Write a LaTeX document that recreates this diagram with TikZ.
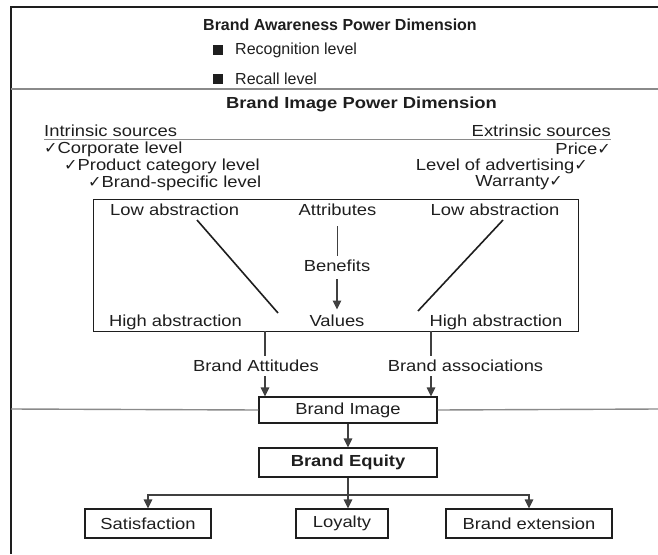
\documentclass[tikz,border=0pt]{standalone}
\usepackage{fontspec}
\setmainfont{Liberation Sans}[FakeStretch=1.15]
\newfontfamily\topsans{Liberation Sans}
\newfontfamily\chk{DejaVu Sans}
\usetikzlibrary{arrows.meta}
\definecolor{ink}{HTML}{1E1E1E}
\definecolor{rule}{HTML}{8A8A8A}
\begin{document}
\begin{tikzpicture}[x=1pt,y=-1pt,
  txt/.style={inner sep=0pt, text=ink, font=\fontsize{16}{18}\selectfont},
  toptxt/.style={inner sep=0pt, text=ink, font=\topsans\fontsize{16}{18}\selectfont},
  boxed/.style={draw=ink, line width=1.1pt, inner sep=0pt, text=ink,
    font=\fontsize{16}{18}\selectfont},
  arr/.style={draw=ink!85, line width=1.1pt, -{Triangle[width=8.5pt,length=9pt]}},
  plain/.style={draw=ink!85, line width=1.1pt},
  slant/.style={draw=ink, line width=1.6pt},
  divider/.style={draw=rule, line width=1.8pt},
  bullet/.style={fill=ink, minimum width=10pt, minimum height=9.5pt, inner sep=0pt},
  labelbg/.style={txt, fill=white, inner xsep=1pt, inner ysep=4pt}
]
\path[use as bounding box] (0,0) rectangle (658,554);

% outer frame (top and left edges)
\draw[ink, line width=1.5pt] (10,7) -- (658,7);
\draw[ink, line width=1.5pt] (11,7) -- (11,554);

% ---- brand awareness ----
\node[toptxt, font=\topsans\fontsize{16}{18}\selectfont\bfseries] (aw) at (340,25) {Brand Awareness Power Dimension};
\node[bullet] (sq1) at (218,50) {};
\node[bullet] (sq2) at (218,79) {};
\node[toptxt, anchor=west] (recog) at (235,50) {Recognition level};
\node[toptxt, anchor=west] (recall) at (235,79) {Recall level};

\draw[divider] (11,89) -- (658,89);

% ---- brand image ----
\node[txt, font=\fontsize{16}{18}\selectfont\bfseries] (im) at (361.5,104) {Brand Image Power Dimension};

\node[txt, anchor=west] (intr) at (44,131) {Intrinsic sources};
\node[txt, anchor=east] (extr) at (611,131) {Extrinsic sources};
\draw[draw=rule, line width=1.2pt] (44,139.5) -- (611,139.5);

\node[txt, anchor=west] (i1) at (44,149) {{\chk ✓}Corporate level};
\node[txt, anchor=west] (i2) at (64,166) {{\chk ✓}Product category level};
\node[txt, anchor=west] (i3) at (88,183) {{\chk ✓}Brand-specific level};
\node[txt, anchor=east] (e1) at (611,149) {Price{\chk ✓}};
\node[txt, anchor=east] (e2) at (588,166) {Level of advertising{\chk ✓}};
\node[txt, anchor=east] (e3) at (563,183) {Warranty{\chk ✓}};

% abstraction box
\node[draw=ink, line width=1.1pt, anchor=north west, inner sep=0pt,
  minimum width=485pt, minimum height=132pt] (ab) at (93,199) {};
\node[txt, anchor=west] (lowL) at (110,210) {Low abstraction};
\node[txt] (attr) at (337.5,210) {Attributes};
\node[txt] (lowR) at (495,210) {Low abstraction};
\node[txt] (ben) at (337,266) {Benefits};
\node[txt] (val) at (337,321) {Values};
\node[txt] (highL) at (175.5,322) {High abstraction};
\node[txt] (highR) at (496,322) {High abstraction};

\coordinate (dl1) at (197,220);
\coordinate (dl2) at (278,313);
\coordinate (dr1) at (503,220);
\coordinate (dr2) at (418,311);
\draw[slant] (dl1) -- (dl2);
\draw[slant] (dr1) -- (dr2);

\draw[plain, line width=0.9pt] (ben.north) ++(0,-4) coordinate (bt) -- (bt |- 0,226);
\draw[arr] (ben.south) ++(0,7) coordinate (bb) -- (bb |- 0,309.5);

% flows into brand image
\node[boxed, minimum width=178pt, minimum height=26pt] (img) at (348,410) {Brand Image};
\draw[divider, line width=1.4pt] (11,409) -- (img.west);
\draw[divider, line width=1.4pt] (img.east) -- (658,409);

\coordinate (att) at (265,331);
\coordinate (ass) at (431,331);
\draw[arr] (att) -- (att |- img.north);
\draw[arr] (ass) -- (ass |- img.north);
\node[labelbg] (attl) at (256,366) {Brand Attitudes};
\node[labelbg] (assl) at (465.5,366) {Brand associations};

% equity and outcomes
\node[boxed, minimum width=178pt, minimum height=29pt,
  font=\fontsize{16}{18}\selectfont\bfseries] (eq) at (348,462.5) {Brand Equity};
\draw[arr] (img.south) -- (eq.north);

\node[boxed, minimum width=126pt, minimum height=29pt] (sat) at (148,523.5) {Satisfaction};
\node[boxed, minimum width=92pt, minimum height=29pt] (loy) at (342,523.5) {Loyalty};
\node[boxed, minimum width=166pt, minimum height=29pt] (ext) at (529,523.5) {Brand extension};

\draw[arr] (eq.south) -- (eq.south |- loy.north);
\coordinate (fork) at (348,495);
\draw[arr] (fork) -| (sat.north);
\draw[arr] (fork) -| (ext.north);
\end{tikzpicture}
\end{document}
